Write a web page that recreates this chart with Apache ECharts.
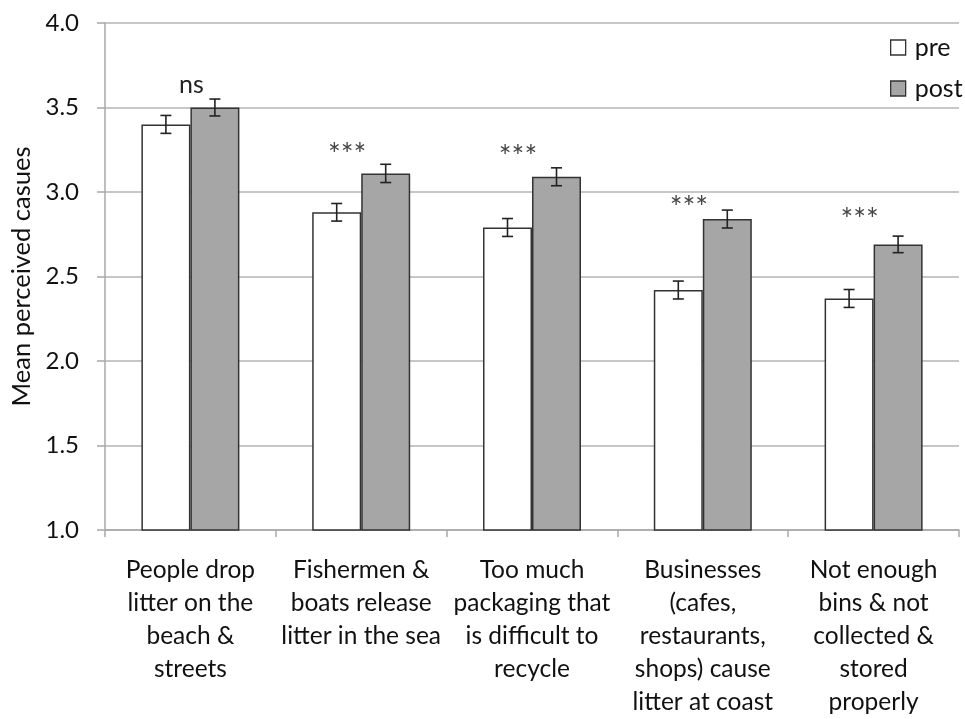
<!DOCTYPE html>
<html>
<head>
<meta charset="utf-8">
<script src="https://cdn.jsdelivr.net/npm/echarts@6/dist/echarts.min.js"></script>
<style>
html,body{margin:0;padding:0;background:#fff;}
#chart{width:965px;height:719px;}
</style>
</head>
<body>
<div id="chart"></div>
<script>
const categories = [
  "People drop\nlitter on the\nbeach &\nstreets",
  "Fishermen &\nboats release\nlitter in the sea",
  "Too much\npackaging that\nis difficult to\nrecycle",
  "Businesses\n(cafes,\nrestaurants,\nshops) cause\nlitter at coast",
  "Not enough\nbins & not\ncollected &\nstored\nproperly"
];
const preValues = [3.40, 2.88, 2.79, 2.42, 2.37];
const postValues = [3.50, 3.11, 3.09, 2.84, 2.69];
const preErr = [0.053, 0.052, 0.053, 0.053, 0.053];
const postErr = [0.05, 0.054, 0.053, 0.053, 0.049];
const sigLabels = ["ns", "***", "***", "***", "***"];
const sigY = [3.63, 3.26, 3.245, 2.947, 2.874];
const yTicks = [1.0, 1.5, 2.0, 2.5, 3.0, 3.5, 4.0];

const FONT = 'Lato';
const BAR_W = 49;
const chart = echarts.init(document.getElementById('chart'));

function errRender(errs, vals, side) {
  return function (params, api) {
    const i = api.value(0);
    const v = vals[i], e = errs[i];
    const top = api.coord([i, v + e]);
    const bot = api.coord([i, v - e]);
    const x = top[0] + side * BAR_W / 2;
    const cap = 5.5;
    const st = {stroke: '#222', lineWidth: 1.6};
    return {
      type: 'group',
      children: [
        {type: 'line', shape: {x1: x, y1: top[1], x2: x, y2: bot[1]}, style: st},
        {type: 'line', shape: {x1: x - cap, y1: top[1], x2: x + cap, y2: top[1]}, style: st},
        {type: 'line', shape: {x1: x - cap, y1: bot[1], x2: x + cap, y2: bot[1]}, style: st}
      ]
    };
  };
}

const option = {
  backgroundColor: '#fff',
  animation: false,
  textStyle: {fontFamily: FONT},
  grid: {left: 105, right: 6, top: 23, bottom: 183, containLabel: false},
  legend: {
    data: ['pre', 'post'],
    orient: 'vertical',
    left: 885, top: 30,
    icon: 'rect',
    itemWidth: 15, itemHeight: 15,
    itemGap: 16,
    textStyle: {fontFamily: FONT, fontSize: 25, color: '#111', lineHeight: 25, padding: [0, 0, 0, 4]},
    itemStyle: {borderColor: '#333', borderWidth: 1.3}
  },
  xAxis: {
    type: 'category',
    data: categories,
    axisLine: {lineStyle: {color: '#a8a8a8', width: 1.5}},
    axisTick: {show: true, alignWithLabel: false, length: 7, lineStyle: {color: '#a8a8a8', width: 1.5}},
    axisLabel: {interval: 0, fontFamily: FONT, fontSize: 24.5, color: '#111', lineHeight: 33, margin: 24}
  },
  yAxis: {
    type: 'value',
    min: 1.0, max: 4.0, interval: 0.5,
    name: 'Mean perceived casues',
    nameLocation: 'middle',
    nameGap: 68,
    nameTextStyle: {fontFamily: FONT, fontSize: 25.5, color: '#111'},
    axisLine: {show: true, lineStyle: {color: '#a8a8a8', width: 1.5}},
    axisTick: {show: true, length: 8, lineStyle: {color: '#a8a8a8', width: 1.5}},
    axisLabel: {fontFamily: FONT, fontSize: 24, color: '#111', margin: 26,
      formatter: v => (yTicks.indexOf(v) >= 0 ? v.toFixed(1) : '')},
    splitLine: {show: true, lineStyle: {color: '#b4b4b4', width: 1.5}}
  },
  series: [
    {
      name: 'pre', type: 'bar', data: preValues, barWidth: BAR_W, barGap: '0%',
      itemStyle: {color: '#ffffff', borderColor: '#333', borderWidth: 1.5}
    },
    {
      name: 'post', type: 'bar', data: postValues, barWidth: BAR_W, barGap: '0%',
      itemStyle: {color: '#a6a6a6', borderColor: '#333', borderWidth: 1.5}
    },
    {
      type: 'custom', name: 'preErr', renderItem: errRender(preErr, preValues, -1),
      data: preValues.map((v, i) => [i, v]), z: 5, silent: true
    },
    {
      type: 'custom', name: 'postErr', renderItem: errRender(postErr, postValues, 1),
      data: postValues.map((v, i) => [i, v]), z: 5, silent: true
    },
    {
      type: 'custom', name: 'sig', z: 6, silent: true,
      data: sigY.map((v, i) => [i, v]),
      renderItem: function (params, api) {
        const i = api.value(0);
        const p = api.coord([i, api.value(1)]);
        const lab = sigLabels[i];
        const isStar = lab !== 'ns';
        return {
          type: 'text',
          x: p[0] + (isStar ? -14 : 1),
          y: p[1] + (isStar ? 7 : -1),
          style: {
            text: lab, fontFamily: FONT, fontSize: isStar ? 30 : 25,
            fill: isStar ? '#444' : '#222',
            align: 'center', verticalAlign: 'middle'
          }
        };
      }
    }
  ]
};
chart.setOption(option);
</script>
</body>
</html>
